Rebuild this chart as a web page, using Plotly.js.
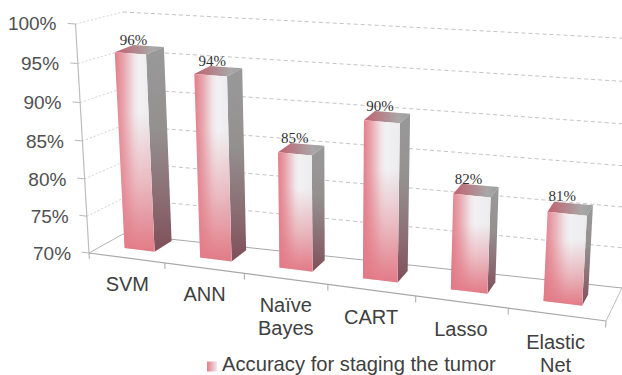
<!DOCTYPE html>
<html>
<head>
<meta charset="utf-8">
<script src="https://cdn.plot.ly/plotly-3.0.1.min.js"></script>
<style>html,body{margin:0;padding:0;background:#fff}#chart{width:622px;height:375px}</style>
</head>
<body>
<div id="chart"></div>
<script>
// Accuracy of six classifiers, drawn as 3D-looking columns.
const categoryLines = [['SVM'], ['ANN'], ['Naïve', 'Bayes'], ['CART'], ['Lasso'], ['Elastic', 'Net']];
const accuracy = [96, 94, 85, 90, 82, 81];
const valueTicks = [70, 75, 80, 85, 90, 95, 100];
const seriesName = 'Accuracy for staging the tumor';

// Screen corners of the chart box: [front, back] at the floor and at the 100% level, left and right.
const wallBox = {
  floorL: [[89, 253], [123, 234]], floorR: [[606, 321], [622, 288]],
  topL: [[75.5, 24], [123, 12]], topR: [[621, 64], [637, 39]]
};
// Columns lean slightly more towards the left wall's vanishing direction.
const barBox = Object.assign({}, wallBox, { topL: [[75.5, 24], [111.5, 12]] });
const mix = (a, b, t) => [a[0] + (b[0] - a[0]) * t, a[1] + (b[1] - a[1]) * t];
const nCat = categoryLines.length;
const categoryLineHeight = 23;
// Perspective foreshortening along the category and value directions.
const catT = c => { const b = -0.0235, a = (1 + nCat * b) / nCat; return a * c / (1 + b * c); };
const valT = v => { const u = (v - 70) / 30, b = -0.043; return (1 + b) * u / (1 + b * u); };
function project(c, v, d, box) {
  const b = box || wallBox, t = catT(c), h = valT(v);
  const left = mix(mix(b.floorL[0], b.floorL[1], d), mix(b.topL[0], b.topL[1], d), h);
  const right = mix(mix(b.floorR[0], b.floorR[1], d), mix(b.topR[0], b.topR[1], d), h);
  return mix(left, right, t);
}
function lineTrace(pts, color, width, dash) {
  const p = pts.map(q => project(q[0], q[1], q[2]));
  return { type: 'scatter', mode: 'lines', x: p.map(q => q[0]), y: p.map(q => q[1]),
    line: { color, width, dash: dash || 'solid' }, showlegend: false, hoverinfo: 'skip' };
}
function faceTrace(pts, orientation, scale) {
  const p = pts.map(q => project(q[0], q[1], q[2], barBox));
  const xs = p.map(q => q[0]), ys = p.map(q => q[1]);
  const axis = orientation === 'horizontal' ? xs : ys;
  return { type: 'scatter', mode: 'lines', x: xs.concat(xs[0]), y: ys.concat(ys[0]), fill: 'toself',
    line: { width: 0 }, showlegend: false, hoverinfo: 'skip',
    fillgradient: { type: orientation, start: Math.min(...axis), stop: Math.max(...axis), colorscale: scale } };
}
function textTrace(pts, text, position, font) {
  return { type: 'scatter', mode: 'text', x: pts.map(p => p[0]), y: pts.map(p => p[1]), text,
    textposition: position, textfont: font, showlegend: false, hoverinfo: 'skip' };
}

const traces = [];
// Walls and floor
valueTicks.forEach(v => {
  const solid = v === 70;
  traces.push(lineTrace([[0, v, 0], [0, v, 1]], solid ? '#b5b5b5' : '#d4d4d4', 1, solid ? 'solid' : '2px 2px'));
  traces.push(lineTrace([[0, v, 1], [nCat, v, 1]], solid ? '#a8a8a8' : '#c4c4c4', 1, solid ? 'solid' : '4px 3px'));
  traces.push(lineTrace([[-0.1, v, 0], [0, v, 0]], '#b8b8b8', 1));
});
traces.push(lineTrace([[0, 70, 0], [0, 100, 0]], '#bdbdbd', 1.2));
traces.push(lineTrace([[0, 70, 0], [nCat, 70, 0]], '#a8a8a8', 1.2));
traces.push(lineTrace([[nCat, 70, 0], [nCat, 70, 1]], '#bdbdbd', 1));
for (let i = 0; i <= nCat; i++) traces.push(lineTrace([[i, 70, 0], [i, 69.2, 0]], '#a8a8a8', 1));

// Columns
const frontAcross = [[0, '#e27d88'], [0.22, '#e9a5ad'], [0.5, '#f0e6e8'], [0.62, '#f1f1f3'], [1, '#ececee']];
const frontDown = [[0, 'rgba(226,122,134,0)'], [0.3, 'rgba(226,122,134,0)'], [0.65, 'rgba(226,122,134,0.45)'], [1, 'rgba(226,122,134,1)']];
const sideDown = [[0, '#999999'], [0.4, '#949090'], [0.75, '#8a6c72'], [1, '#7f4f59']];
const topAcross = [[0, '#c2606f'], [0.45, '#b28a90'], [0.75, '#a8a8a8'], [1, '#9c9c9c']];
accuracy.forEach((v, i) => {
  const c0 = i + 0.3, c1 = i + 0.7, d0 = 0.4 - 0.01 * i, d1 = 0.93 - 0.045 * i;
  traces.push(faceTrace([[c0, v, d0], [c1, v, d0], [c1, v, d1], [c0, v, d1]], 'horizontal', topAcross));
  traces.push(faceTrace([[c1, v, d0], [c1, v, d1], [c1, 70, d1], [c1, 70, d0]], 'vertical', sideDown));
  traces.push(faceTrace([[c0, v, d0], [c1, v, d0], [c1, 70, d0], [c0, 70, d0]], 'horizontal', frontAcross));
  traces.push(faceTrace([[c0, v, d0], [c1, v, d0], [c1, 70, d0], [c0, 70, d0]], 'vertical', frontDown));
});

// Value labels above the columns
const tops = accuracy.map((v, i) => project(i + 0.4, v, 0.72 - 0.02 * i, barBox));
traces.push(textTrace(tops, accuracy.map(v => v + '%'), 'top center',
  { family: 'Liberation Serif', size: 15, color: '#333333' }));

// Axis labels
traces.push(textTrace(valueTicks.map(v => project(-0.15, v, -0.2, barBox)), valueTicks.map(v => v + '%'), 'middle left',
  { family: 'Liberation Sans', size: 19, color: '#505050' }));
const catPts = [], catText = [];
categoryLines.forEach((lines, i) => lines.forEach((line, k) => {
  const p = project(i + 0.5, 67.6, 0);
  catPts.push([p[0], p[1] + k * categoryLineHeight]);
  catText.push(line);
}));
traces.push(textTrace(catPts, catText, 'bottom center',
  { family: 'Liberation Sans', size: 20, color: '#404040' }));

// Legend entry
traces.push({ type: 'scatter', mode: 'markers', x: [212], y: [366.5],
  marker: { symbol: 'square', size: 10, color: '#e27d88', gradient: { type: 'horizontal', color: '#f0e8ea' } },
  showlegend: false, hoverinfo: 'skip' });
traces.push(textTrace([[222, 366]], [seriesName], 'middle right',
  { family: 'Liberation Sans', size: 20.2, color: '#404040' }));

Plotly.newPlot('chart', traces, {
  width: 622, height: 375, margin: { l: 0, r: 0, t: 0, b: 0 },
  paper_bgcolor: '#ffffff', plot_bgcolor: '#ffffff', hovermode: false, showlegend: false,
  xaxis: { range: [0, 622], visible: false, fixedrange: true },
  yaxis: { range: [375, 0], visible: false, fixedrange: true }
}, { displayModeBar: false, staticPlot: true });
</script>
</body>
</html>
